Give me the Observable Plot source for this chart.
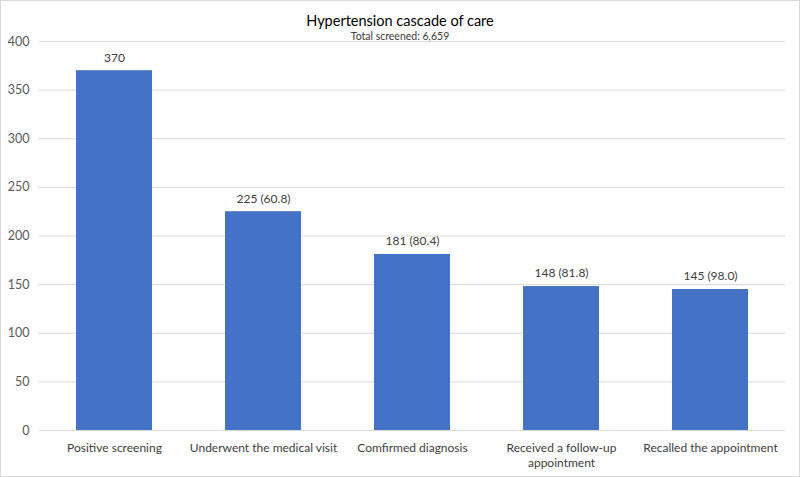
<!DOCTYPE html>
<html>
<head>
<meta charset="utf-8">
<script src="https://cdn.jsdelivr.net/npm/d3@7"></script>
<script src="https://cdn.jsdelivr.net/npm/@observablehq/plot@0.6"></script>
<style>
  html, body { margin: 0; padding: 0; background: #fff; }
  #wrap { position: relative; width: 800px; height: 477px; box-sizing: border-box; border: 1px solid #d9d9d9; font-family: Lato, "Open Sans", sans-serif; }
  #title { position: absolute; left: 0; right: 0; top: 11px; text-align: center; font-size: 14.5px; color: #000; }
  #subtitle { position: absolute; left: 0; right: 0; top: 29px; text-align: center; font-size: 10.5px; color: #404040; }
  #chart { position: absolute; left: 0; top: 0; }
</style>
</head>
<body>
<div id="wrap">
  <div id="chart"></div>
  <div id="title">Hypertension cascade of care</div>
  <div id="subtitle">Total screened: 6,659</div>
</div>
<script>
const categories = ["Positive screening", "Underwent the medical visit", "Comfirmed diagnosis", "Received a follow-up\nappointment", "Recalled the appointment"];
const values = [370, 225, 181, 148, 145];
const percents = [null, "60.8", "80.4", "81.8", "98.0"];
const yTicks = [0, 50, 100, 150, 200, 250, 300, 350, 400];

const data = categories.map((c, i) => ({
  category: c,
  value: values[i],
  label: percents[i] == null ? String(values[i]) : `${values[i]} (${percents[i]})`
}));

const chart = Plot.plot({
  width: 798,
  height: 475,
  marginLeft: 37,
  marginRight: 14,
  marginTop: 40,
  marginBottom: 46,
  style: { fontFamily: "Lato, 'Open Sans', sans-serif", fontSize: "12px", color: "#404040", background: "transparent" },
  x: { domain: categories, paddingInner: 0.49, paddingOuter: 0.245, label: null },
  y: { domain: [0, 400], ticks: yTicks, label: null },
  marks: [
    Plot.gridY(yTicks, { stroke: "#d9d9d9", strokeOpacity: 1 }),
    Plot.barY(data, { x: "category", y: "value", fill: "#4472C4" }),
    Plot.text(data, { x: "category", y: "value", text: "label", dy: -13, fill: "#404040", fontSize: 12 }),
    Plot.axisY({ ticks: yTicks, tickSize: 0, tickPadding: 9, fontSize: 12.5, fill: "#595959" }),
    Plot.axisX({ tickSize: 0, tickPadding: 10, fontSize: 12, fill: "#404040", lineHeight: 1.3 })
  ]
});
document.getElementById("chart").appendChild(chart);
</script>
</body>
</html>
